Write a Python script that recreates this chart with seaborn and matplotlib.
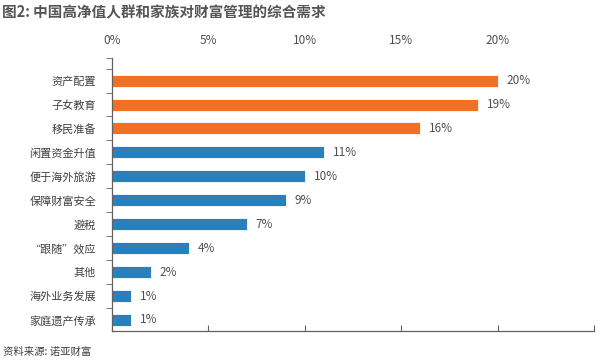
import numpy as np
import pandas as pd
import matplotlib
matplotlib.use('Agg')
import matplotlib.pyplot as plt
import seaborn as sb

#-------------------------------------------------------------------------------------------------
# data
#-------------------------------------------------------------------------------------------------
needs = ['资产配置', '子女教育', '移民准备', '闲置资金升值', '便于海外旅游', '保障财富安全',
         '避税', '“跟随”效应', '其他', '海外业务发展', '家庭遗产传承']
share = [20, 19, 16, 11, 10, 9, 7, 4, 2, 1, 1]
top3 = [True, True, True, False, False, False, False, False, False, False, False]
x_ticks = [0, 5, 10, 15, 20, 25]
x_tick_labels = ['0%', '5%', '10%', '15%', '20%', '']

orange = '#F37022'
blue = '#2A80B9'
grey = '#505050'

df = pd.DataFrame({'need': needs, 'share': share, 'top': top3})

#-------------------------------------------------------------------------------------------------
# plot
#-------------------------------------------------------------------------------------------------
sb.set_style('white')
plt.rcParams['font.family'] = ['Noto Sans CJK SC', 'DejaVu Sans']

fig = plt.figure(figsize=(6, 3.63), dpi=100)
ax = fig.add_axes([0.1867, 0.0882, 0.8033, 0.7518])

colors = [orange if t else blue for t in df['top']]
sb.barplot(data=df, x='share', y='need', hue='need', palette=colors, legend=False,
           saturation=1, width=0.5, edgecolor='white', linewidth=0.6, ax=ax)

for i, v in enumerate(df['share']):
    ax.text(v + 0.45, i, f'{v}%', va='center', ha='left', fontsize=8.5, color=grey)

ax.set_xlim(0, 25)
ax.set_ylim(10.46, -0.94)
ax.set_xticks(x_ticks)
ax.set_xticklabels(x_tick_labels, fontsize=8.5, color=grey)
ax.tick_params(axis='x', labeltop=True, labelbottom=False, top=False, bottom=True,
               direction='in', length=4, color='#606060', pad=8)
ax.tick_params(axis='y', labelsize=8, labelcolor='#404040', left=False, pad=8)
ax.set_yticks(list(np.arange(-0.5, 10.5, 1.0)) + [-0.94], minor=True)
ax.tick_params(axis='y', which='minor', left=True, length=4, direction='out', color='#606060')
ax.set_xlabel('')
ax.set_ylabel('')

for s in ['top', 'right']:
    ax.spines[s].set_visible(False)
for s in ['left', 'bottom']:
    ax.spines[s].set_color('#606060')
    ax.spines[s].set_linewidth(0.9)

fig.text(0.004, 0.965, '图2: 中国高净值人群和家族对财富管理的综合需求', fontsize=10.5,
         fontweight='bold', color='#555555', va='center', ha='left')
fig.text(0.005, 0.03, '资料来源: 诺亚财富', fontsize=7.5, color='#404040', va='center', ha='left')

fig.savefig('out.png', dpi=100)
